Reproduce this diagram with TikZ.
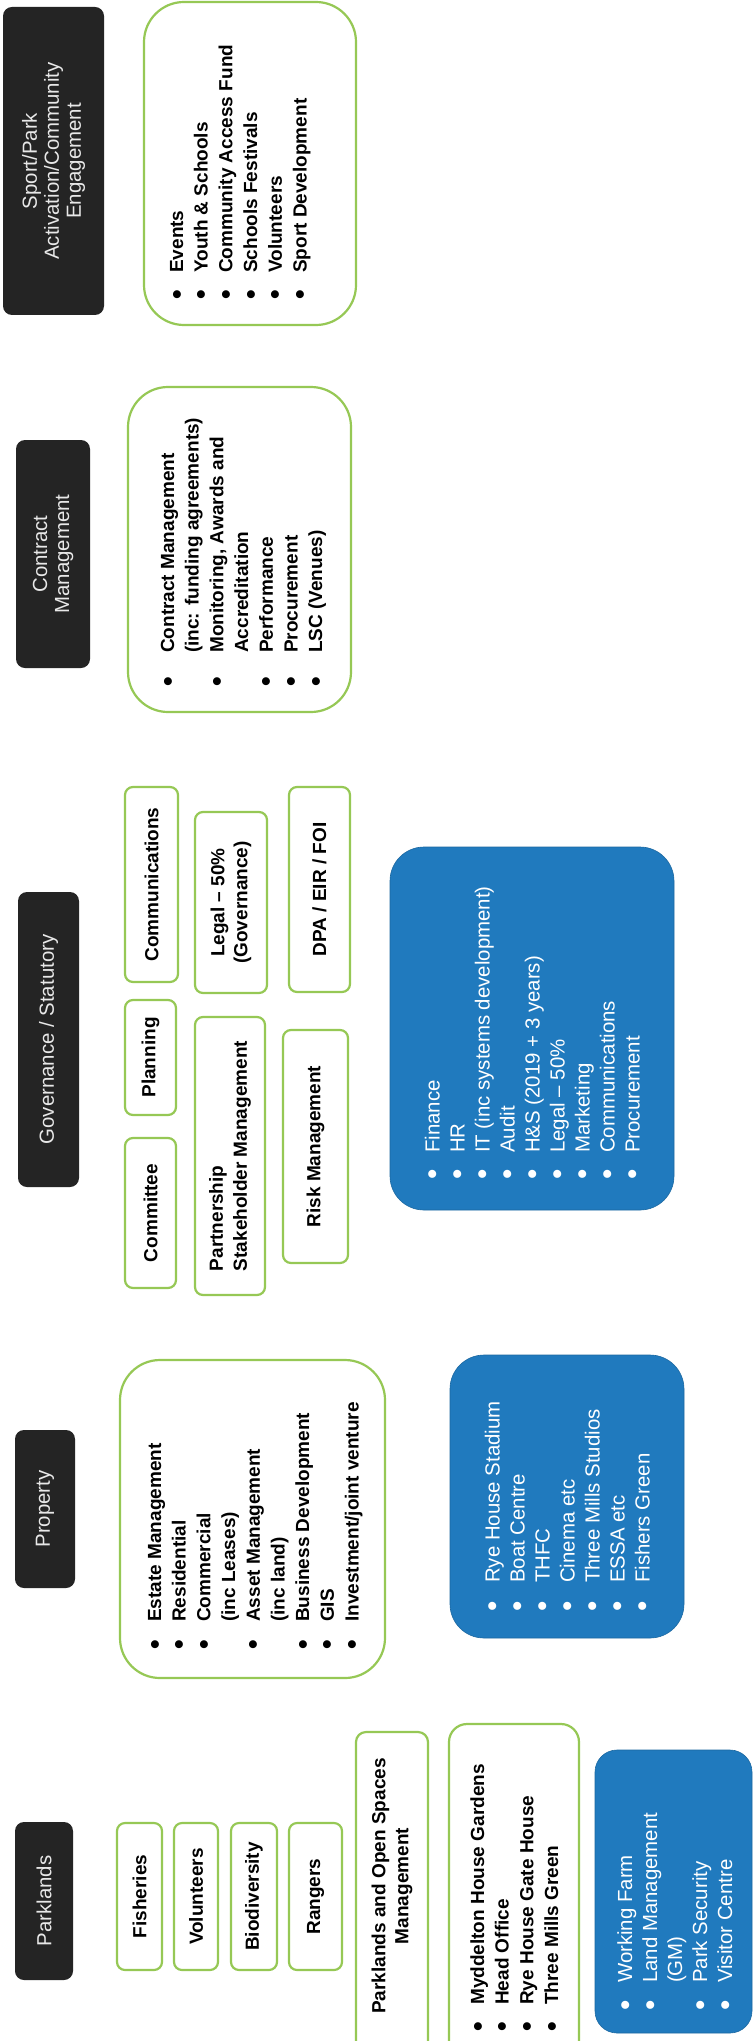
\documentclass[tikz,border=0pt]{standalone}
\usepackage{fontspec}
\usepackage{graphicx}
\setmainfont{Liberation Sans}
\usetikzlibrary{fit}
\definecolor{hdrbg}{RGB}{36,36,36}
\definecolor{hdrfg}{RGB}{232,232,232}
\definecolor{grn}{RGB}{150,200,85}
\definecolor{blu}{RGB}{32,122,190}
\newcommand\bul{\makebox[12pt]{\raisebox{-0.16em}{\scalebox{1.45}{\textbullet}}}}
\newcommand\lst[2]{\begin{tabular}[t]{@{}l@{\hspace{#1}}l@{}}#2\end{tabular}}
\tikzset{
  hdr/.style={fill=hdrbg, draw=none, rounded corners=9pt, inner sep=0pt},
  gbox/.style={draw=grn, line width=2.2pt, rounded corners=#1, fill=white, inner sep=0pt},
  gbox/.default=8pt,
  bbox/.style={fill=blu, draw=blu!85!black, line width=0.6pt, rounded corners=#1, inner sep=0pt},
  bbox/.default=30pt,
  hdrtxt/.style={rotate=90, inner sep=0pt, text=hdrfg, align=center, font=\fontsize{20.4}{22}\selectfont},
  gtxt/.style={rotate=90, inner sep=0pt, align=center, font=\fontsize{19}{23}\selectfont\bfseries},
  glist/.style={rotate=90, inner sep=0pt, anchor=base west, font=\fontsize{19}{24.7}\selectfont\bfseries},
  blist/.style={rotate=90, inner sep=0pt, anchor=base west, text=white, font=\fontsize{20.4}{25}\selectfont},
}
\begin{document}
\begin{tikzpicture}[x=1pt,y=1pt]
\useasboundingbox[fill=white] (0,0) rectangle (755,-2041);

% ---------- headers ----------
\node[hdr, fit={(3,-7) (104,-315)}] (hSport) {};
\node[hdrtxt] (tSport) at (hSport.center) {Sport/Park\\Activation/Community\\Engagement};
\node[hdr, fit={(16,-440) (90,-668)}] (hContract) {};
\node[hdrtxt] (tContract) at (hContract.center) {Contract\\Management};
\node[hdr, fit={(18,-892) (79,-1187)}] (hGov) {};
\node[hdrtxt] (tGov) at (hGov.center) {Governance / Statutory};
\node[hdr, fit={(15,-1430) (75,-1588)}] (hProp) {};
\node[hdrtxt] (tProp) at (hProp.center) {Property};
\node[hdr, fit={(15,-1822) (73,-1980)}] (hPark) {};
\node[hdrtxt] (tPark) at (hPark.center) {Parklands};

% ---------- Sport / Park ----------
\node[gbox=40pt, fit={(144,-2) (356,-325)}] (gSport) {};
\node[glist] (lSport) at (183,-301) {\lst{16pt}{%
\bul & Events\\ \bul & Youth \& Schools\\ \bul & Community Access Fund\\
\bul & Schools Festivals\\ \bul & Volunteers\\ \bul & Sport Development}};

% ---------- Contract ----------
\node[gbox=40pt, fit={(128,-387) (351,-712)}] (gContract) {};
\node[glist] (lContract) at (174,-688) {\lst{23pt}{%
\bul & Contract Management\\ & (inc: funding agreements)\\
\bul & Monitoring, Awards and\\ & Accreditation\\
\bul & Performance\\ \bul & Procurement\\ \bul & LSC (Venues)}};

% ---------- Governance ----------
\node[gbox, fit={(125,-787) (178,-982)}] (gComm) {};
\node[gtxt] at (gComm.center) {Communications};
\node[gbox, fit={(125,-1000) (176,-1115)}] (gPlan) {};
\node[gtxt] at (gPlan.center) {Planning};
\node[gbox, fit={(125,-1138) (176,-1288)}] (gCommittee) {};
\node[gtxt] at (gCommittee.center) {Committee};
\node[gbox, fit={(195,-812) (267,-993)}] (gLegal) {};
\node[gtxt] at (gLegal.center) {Legal – 50\%\\(Governance)};
\node[gbox, fit={(195,-1017) (265,-1295)}] (gPartner) {};
\node[gtxt, align=left, font=\fontsize{19}{24}\selectfont\bfseries] at (gPartner.center) {Partnership\\Stakeholder Management};
\node[gbox, fit={(289,-787) (350,-992)}] (gDPA) {};
\node[gtxt] at (gDPA.center) {DPA / EIR / FOI};
\node[gbox, fit={(283,-1030) (348,-1263)}] (gRisk) {};
\node[gtxt] at (gRisk.center) {Risk Management};
\node[bbox=34pt, fit={(390,-847) (674,-1210)}] (bGov) {};
\node[blist] (lGov) at (439.5,-1181) {\lst{16pt}{%
\bul & Finance\\ \bul & HR\\ \bul & IT (inc systems development)\\ \bul & Audit\\
\bul & H\&S (2019 + 3 years)\\ \bul & Legal – 50\%\\ \bul & Marketing\\
\bul & Communications\\ \bul & Procurement}};

% ---------- Property ----------
\node[gbox=40pt, fit={(120,-1360) (385,-1678)}] (gProp) {};
\node[glist] (lProp) at (161,-1651) {\lst{17pt}{%
\bul & Estate Management\\ \bul & Residential\\ \bul & Commercial\\ & (inc Leases)\\
\bul & Asset Management\\ & (inc land)\\ \bul & Business Development\\ \bul & GIS\\
\bul & Investment/joint venture}};
\node[bbox=34pt, fit={(450,-1355) (684,-1638)}] (bProp) {};
\node[blist] (lPropB) at (499.5,-1613) {\lst{18pt}{%
\bul & Rye House Stadium\\ \bul & Boat Centre\\ \bul & THFC\\ \bul & Cinema etc\\
\bul & Three Mills Studios\\ \bul & ESSA etc\\ \bul & Fishers Green}};

% ---------- Parklands ----------
\node[gbox, fit={(117,-1823) (162,-1970)}] (gFish) {};
\node[gtxt] at (gFish.center) {Fisheries};
\node[gbox, fit={(174,-1823) (218,-1970)}] (gVol) {};
\node[gtxt] at (gVol.center) {Volunteers};
\node[gbox, fit={(231,-1823) (277,-1970)}] (gBio) {};
\node[gtxt] at (gBio.center) {Biodiversity};
\node[gbox, fit={(289,-1823) (342,-1970)}] (gRang) {};
\node[gtxt] at (gRang.center) {Rangers};
\node[gbox=10pt, fit={(356,-1732) (428,-2080)}] (gPOS) {};
\node[gtxt] (tPOS) at (392,-1886) {Parklands and Open Spaces\\Management};
\node[gbox=18pt, fit={(449,-1724) (579,-2080)}] (gMydd) {};
\node[glist] (lMydd) at (484,-2033) {\lst{16pt}{%
\bul & Myddelton House Gardens\\ \bul & Head Office\\ \bul & Rye House Gate House\\ \bul & Three Mills Green}};
\node[bbox=22pt, fit={(595,-1750) (752,-2033)}] (bPark) {};
\node[blist] (lPark) at (632,-2011) {\lst{16pt}{%
\bul & Working Farm\\ \bul & Land Management\\ & (GM)\\ \bul & Park Security\\ \bul & Visitor Centre}};
\end{tikzpicture}
\end{document}
